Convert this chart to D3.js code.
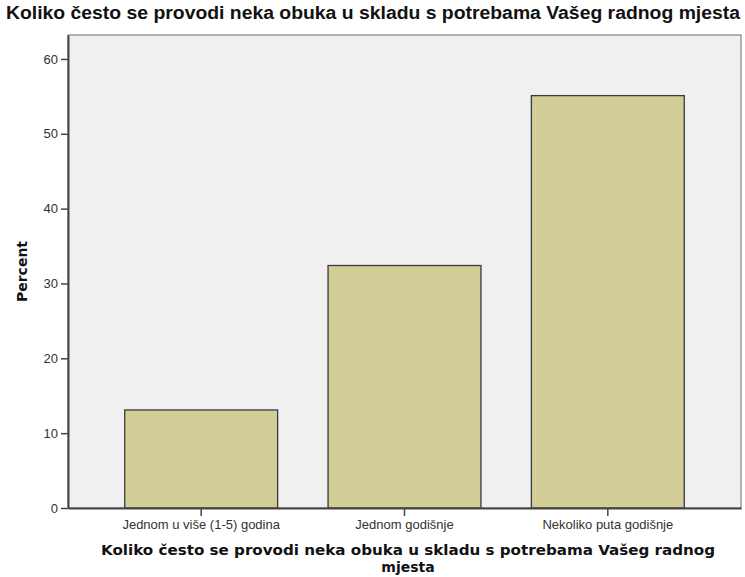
<!DOCTYPE html>
<html>
<head>
<meta charset="utf-8">
<script src="https://cdn.jsdelivr.net/npm/d3@7"></script>
<style>
  body { margin: 0; background: #fff; }
  svg { display: block; }
</style>
</head>
<body>
<div id="chart"></div>
<script>
// Chart data
const categories = ["Jednom u više (1-5) godina", "Jednom godišnje", "Nekoliko puta godišnje"];
const percents = [13.1, 32.4, 55.1];
const yTicks = [0, 10, 20, 30, 40, 50, 60];
const chartTitle = "Koliko često se provodi neka obuka u skladu s potrebama Vašeg radnog mjesta";
const xTitleLines = ["Koliko često se provodi neka obuka u skladu s potrebama Vašeg radnog", "mjesta"];
const yTitle = "Percent";

const width = 745, height = 577;
const margin = { top: 35, right: 4, bottom: 69, left: 68 };

const svg = d3.select("#chart")
  .append("svg")
  .attr("width", width)
  .attr("height", height);

// Plot background
svg.append("rect")
  .attr("x", margin.left)
  .attr("y", margin.top)
  .attr("width", width - margin.left - margin.right)
  .attr("height", height - margin.top - margin.bottom)
  .attr("fill", "#f0f0f0")
  .attr("stroke", "#6a6a6a")
  .attr("stroke-width", 1);

// Scales
const xScale = d3.scaleBand()
  .domain(categories)
  .range([margin.left, width - margin.right])
  .paddingInner(0.248)
  .paddingOuter(0.279);

const yScale = d3.scaleLinear()
  .domain([0, 63.2])
  .range([height - margin.bottom, margin.top]);

// Bars
svg.selectAll(".bar")
  .data(percents)
  .enter()
  .append("rect")
  .attr("class", "bar")
  .attr("x", (d, i) => xScale(categories[i]))
  .attr("y", d => yScale(d))
  .attr("width", xScale.bandwidth())
  .attr("height", d => yScale(0) - yScale(d))
  .attr("fill", "#d3ce97")
  .attr("stroke", "#3a3a3a")
  .attr("stroke-width", 1.3);

// Axes
const xAxis = d3.axisBottom(xScale).tickSize(8).tickSizeOuter(0);
const yAxis = d3.axisLeft(yScale).tickValues(yTicks).tickSize(7).tickSizeOuter(0);

const gx = svg.append("g")
  .attr("transform", `translate(0, ${height - margin.bottom})`)
  .call(xAxis);

const gy = svg.append("g")
  .attr("transform", `translate(${margin.left}, 0)`)
  .call(yAxis);

[gx, gy].forEach(g => {
  g.select(".domain").attr("stroke", "#444").attr("stroke-width", 2);
  g.selectAll(".tick line").attr("stroke", "#444").attr("stroke-width", 1.5);
  g.selectAll(".tick text")
    .attr("fill", "#333")
    .style("font-family", "'Liberation Sans', Arial, sans-serif")
    .style("font-size", "13px");
});
gx.selectAll(".tick text").attr("dy", "0.75em");

// Title
svg.append("text")
  .attr("x", width / 2 + 0.5)
  .attr("y", 19)
  .attr("text-anchor", "middle")
  .attr("textLength", 734)
  .attr("lengthAdjust", "spacingAndGlyphs")
  .style("font-family", "'Liberation Sans', Arial, sans-serif")
  .style("font-size", "18px")
  .style("font-weight", "bold")
  .attr("fill", "#111")
  .text(chartTitle);

// X axis title
svg.selectAll(".xtitle")
  .data(xTitleLines)
  .enter()
  .append("text")
  .attr("class", "xtitle")
  .attr("x", 408)
  .attr("y", (d, i) => 555 + i * 17)
  .attr("text-anchor", "middle")
  .attr("textLength", (d, i) => i === 0 ? 614 : null)
  .attr("lengthAdjust", "spacingAndGlyphs")
  .style("font-family", "'DejaVu Sans', Verdana, sans-serif")
  .style("font-size", "14px")
  .style("font-weight", "bold")
  .attr("fill", "#111")
  .text(d => d);

// Y axis title
svg.append("text")
  .attr("transform", `translate(27, ${(margin.top + height - margin.bottom) / 2}) rotate(-90)`)
  .attr("text-anchor", "middle")
  .style("font-family", "'DejaVu Sans', Verdana, sans-serif")
  .style("font-size", "14px")
  .style("font-weight", "bold")
  .attr("fill", "#111")
  .text(yTitle);
</script>
</body>
</html>
